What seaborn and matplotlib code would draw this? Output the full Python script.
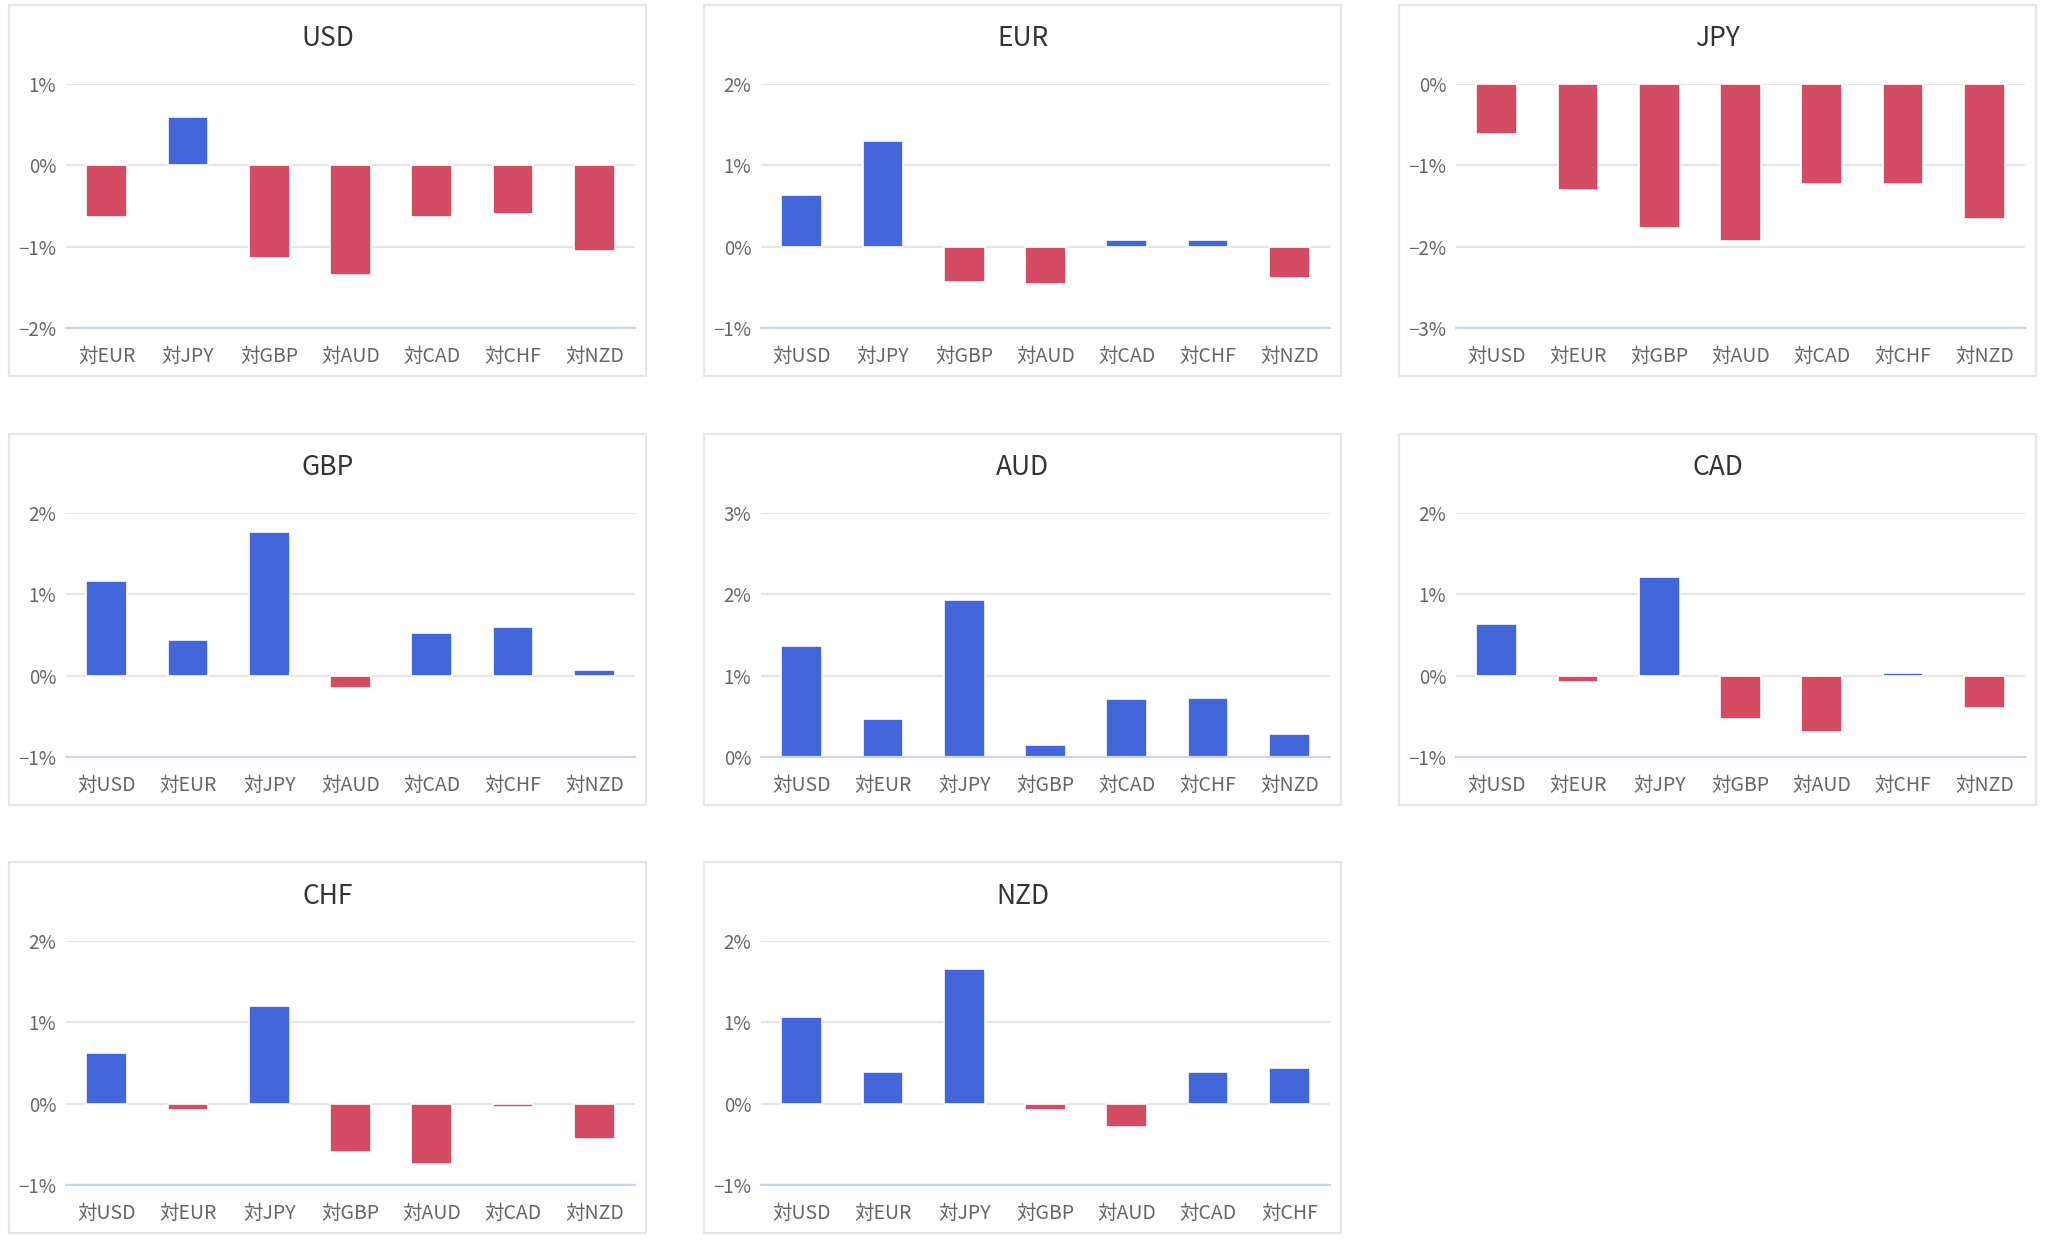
import matplotlib
matplotlib.use("Agg")
import matplotlib.pyplot as plt
import seaborn as sns
import pandas as pd
from matplotlib.patches import Rectangle
from matplotlib.ticker import FuncFormatter, MultipleLocator


CURRENCIES = ["USD", "EUR", "JPY", "GBP", "AUD", "CAD", "CHF", "NZD"]

# 各通貨の対他通貨騰落率 (%)
usd = [-0.64, 0.60, -1.14, -1.35, -0.64, -0.60, -1.05]
eur = [0.64, 1.30, -0.44, -0.46, 0.08, 0.08, -0.39]
jpy = [-0.62, -1.30, -1.77, -1.93, -1.23, -1.23, -1.66]
gbp = [1.16, 0.44, 1.77, -0.15, 0.53, 0.60, 0.07]
aud = [1.37, 0.47, 1.93, 0.15, 0.71, 0.73, 0.28]
cad = [0.64, -0.08, 1.21, -0.53, -0.69, 0.03, -0.40]
chf = [0.62, -0.08, 1.20, -0.60, -0.74, -0.04, -0.44]
nzd = [1.07, 0.39, 1.66, -0.08, -0.29, 0.39, 0.44]

VALUES = [usd, eur, jpy, gbp, aud, cad, chf, nzd]

# y軸の範囲 (%)
Y_RANGES = [(-2, 1), (-1, 2), (-3, 0), (-1, 2), (0, 3), (-1, 2), (-1, 2), (-1, 2)]

BLUE = "#4466DB"
RED = "#D44B64"

W, H = 2048, 1247
COL_X = [9, 704, 1399]
ROW_Y = [5, 434, 862]
PANEL_W, PANEL_H = 637, 371


def pct(v, pos):
    v = int(round(v))
    if v < 0:
        return f"\u2212{abs(v)}%"
    return f"{v}%"


def draw_panel(fig, idx):
    cur = CURRENCIES[idx]
    others = [c for c in CURRENCIES if c != cur]
    df = pd.DataFrame({
        "pair": ["対" + c for c in others],
        "value": VALUES[idx],
    })
    df["sign"] = ["pos" if v >= 0 else "neg" for v in df["value"]]

    px = COL_X[idx % 3]
    py = ROW_Y[idx // 3]

    fig.patches.append(Rectangle(
        (px / W, 1 - (py + PANEL_H) / H), PANEL_W / W, PANEL_H / H,
        transform=fig.transFigure, fill=False,
        edgecolor="#E3E7EB", linewidth=1.6, zorder=0
    ))

    fig.text((px + PANEL_W / 2) / W, 1 - (py + 34) / H, cur,
             ha="center", va="center", fontsize=19, color="#333333")

    left = (px + 57) / W
    bottom = 1 - (py + 323) / H
    ax = fig.add_axes([left, bottom, 569 / W, 244 / H])

    sns.barplot(
        data=df, x="pair", y="value", hue="sign",
        palette={"pos": BLUE, "neg": RED}, hue_order=["pos", "neg"],
        dodge=False, width=0.5, saturation=1, edgecolor="white", linewidth=1.2,
        legend=False, ax=ax, zorder=3
    )

    lo, hi = Y_RANGES[idx]
    ax.set_ylim(lo, hi)
    ax.yaxis.set_major_locator(MultipleLocator(1))
    ax.yaxis.set_major_formatter(FuncFormatter(pct))
    ax.set_xlim(-0.5, 6.5)

    ax.set_xlabel("")
    ax.set_ylabel("")
    ax.grid(axis="y", color="#E6E6E6", linewidth=1.6, zorder=0)
    ax.set_axisbelow(True)
    for s in ["top", "right", "left"]:
        ax.spines[s].set_visible(False)
    ax.spines["bottom"].set_color("#CCD6EB")
    ax.spines["bottom"].set_linewidth(1.6)
    ax.spines["bottom"].set_zorder(5)

    ax.tick_params(axis="y", length=0, pad=7, labelsize=13.5, labelcolor="#666666")
    ax.tick_params(axis="x", length=0, pad=13, labelsize=14, labelcolor="#666666")


sns.set_style("white")
plt.rcParams["font.family"] = ["Noto Sans CJK JP", "DejaVu Sans"]

fig = plt.figure(figsize=(W / 100, H / 100), dpi=100)

for i in range(len(CURRENCIES)):
    draw_panel(fig, i)

fig.savefig("out.png", dpi=100, facecolor="white")
